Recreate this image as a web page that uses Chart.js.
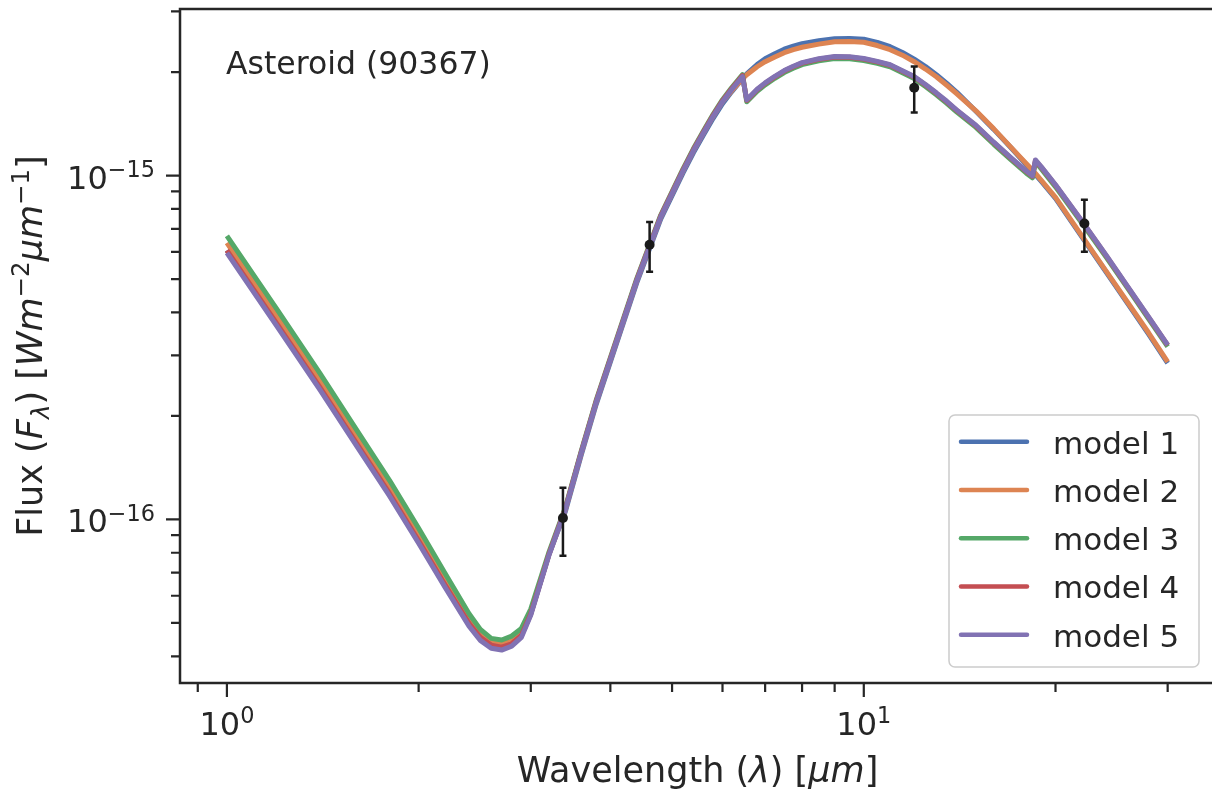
<!DOCTYPE html>
<html>
<head>
<meta charset="utf-8">
<title>Asteroid (90367) spectral energy distribution</title>
<script src="https://cdn.jsdelivr.net/npm/chart.js@4.4.1/dist/chart.umd.min.js"></script>
<style>
  html, body { margin: 0; padding: 0; background: #ffffff; overflow: hidden; }
  #wrap { width: 1220px; height: 791px; }
  canvas { display: block; }
</style>
</head>
<body>
<div id="wrap"><canvas id="sed" width="1220" height="791"></canvas></div>
<script>
// Wavelength grid of the model spectra (micron)
const wavelength = [
  1.0, 1.2, 1.4, 1.6, 1.8, 2.0, 2.2, 2.4, 2.5, 2.6, 2.7, 2.8, 2.9, 3.0, 3.2, 3.4, 3.6, 3.8, 4.0, 4.4, 4.8, 5.2,
  5.4, 5.6, 5.8, 6.0, 6.2, 6.45, 6.55, 6.8, 7.0, 7.25, 7.5, 7.75, 8.0, 8.5, 9.0, 9.5, 10, 10.5, 11, 11.5, 12, 12.5, 13, 13.5, 14,
  15, 16, 17, 18, 18.4, 18.6, 19, 20, 22, 24, 26, 28, 30];

// Model fluxes F_lambda (W m^-2 um^-1) on the wavelength grid
const model1 = [
  6.06e-16, 3.69e-16, 2.42e-16, 1.658e-16, 1.19e-16, 8.67e-17, 6.46e-17, 4.99e-17, 4.54e-17, 4.31e-17, 4.25e-17,
  4.35e-17, 4.60e-17, 5.32e-17, 7.87e-17, 1.056e-16, 1.539e-16, 2.161e-16, 2.871e-16, 4.874e-16, 7.479e-16, 1.016e-15,
  1.164e-15, 1.312e-15, 1.467e-15, 1.618e-15, 1.752e-15, 1.912e-15, 1.977e-15, 2.103e-15, 2.186e-15, 2.262e-15, 2.330e-15,
  2.377e-15, 2.417e-15, 2.466e-15, 2.500e-15, 2.505e-15, 2.491e-15, 2.440e-15, 2.369e-15, 2.279e-15, 2.179e-15, 2.075e-15,
  1.964e-15, 1.853e-15, 1.746e-15,
  1.538e-15, 1.362e-15, 1.208e-15, 1.075e-15, 1.029e-15, 1.007e-15, 9.62e-16, 8.58e-16, 6.63e-16, 5.25e-16, 4.23e-16,
  3.46e-16, 2.85e-16];
const model2 = [
  6.37e-16, 3.88e-16, 2.545e-16, 1.737e-16, 1.243e-16, 9.06e-17, 6.72e-17, 5.16e-17, 4.68e-17, 4.42e-17, 4.34e-17,
  4.43e-17, 4.65e-17, 5.34e-17, 7.87e-17, 1.07e-16, 1.56e-16, 2.19e-16, 2.91e-16, 4.94e-16, 7.58e-16, 1.03e-15,
  1.180e-15, 1.33e-15, 1.487e-15, 1.64e-15, 1.764e-15, 1.912e-15, 1.964e-15, 2.072e-15, 2.143e-15, 2.213e-15, 2.276e-15,
  2.323e-15, 2.361e-15, 2.411e-15, 2.450e-15, 2.453e-15, 2.442e-15, 2.388e-15, 2.322e-15, 2.239e-15, 2.143e-15, 2.040e-15,
  1.938e-15, 1.830e-15, 1.729e-15,
  1.543e-15, 1.367e-15, 1.212e-15, 1.082e-15, 1.036e-15, 1.014e-15, 9.68e-16, 8.64e-16, 6.68e-16, 5.28e-16, 4.26e-16,
  3.49e-16, 2.87e-16];
const model3 = [
  6.68e-16, 4.07e-16, 2.66e-16, 1.815e-16, 1.30e-16, 9.43e-17, 6.97e-17, 5.32e-17, 4.79e-17, 4.51e-17, 4.46e-17,
  4.58e-17, 4.82e-17, 5.49e-17, 7.98e-17, 1.084e-16, 1.58e-16, 2.22e-16, 2.95e-16, 5.01e-16, 7.68e-16, 1.044e-15,
  1.196e-15, 1.348e-15, 1.507e-15, 1.662e-15, 1.800e-15, 1.966e-15, 1.638e-15, 1.758e-15, 1.835e-15, 1.918e-15, 1.993e-15,
  2.051e-15, 2.102e-15, 2.157e-15, 2.190e-15, 2.187e-15, 2.161e-15, 2.119e-15, 2.072e-15, 1.991e-15, 1.914e-15, 1.815e-15,
  1.717e-15, 1.622e-15, 1.529e-15,
  1.381e-15, 1.233e-15, 1.115e-15, 1.016e-15, 9.85e-16, 1.095e-15, 1.046e-15, 9.27e-16, 7.28e-16, 5.80e-16, 4.68e-16,
  3.83e-16, 3.18e-16];
const model4 = [
  6.06e-16, 3.69e-16, 2.42e-16, 1.658e-16, 1.19e-16, 8.67e-17, 6.46e-17, 4.99e-17, 4.54e-17, 4.31e-17, 4.25e-17,
  4.35e-17, 4.60e-17, 5.32e-17, 7.87e-17, 1.077e-16, 1.57e-16, 2.205e-16, 2.93e-16, 4.97e-16, 7.63e-16, 1.037e-15,
  1.188e-15, 1.339e-15, 1.497e-15, 1.651e-15, 1.788e-15, 1.953e-15, 1.654e-15, 1.776e-15, 1.854e-15, 1.937e-15, 2.013e-15,
  2.072e-15, 2.123e-15, 2.179e-15, 2.213e-15, 2.209e-15, 2.183e-15, 2.141e-15, 2.093e-15, 2.011e-15, 1.934e-15, 1.833e-15,
  1.734e-15, 1.638e-15, 1.545e-15,
  1.395e-15, 1.246e-15, 1.126e-15, 1.027e-15, 9.95e-16, 1.106e-15, 1.056e-15, 9.37e-16, 7.36e-16, 5.86e-16, 4.72e-16,
  3.87e-16, 3.21e-16];
const model5 = [
  5.96e-16, 3.63e-16, 2.38e-16, 1.63e-16, 1.17e-16, 8.53e-17, 6.35e-17, 4.89e-17, 4.45e-17, 4.22e-17, 4.17e-17,
  4.28e-17, 4.54e-17, 5.27e-17, 7.82e-17, 1.07e-16, 1.56e-16, 2.19e-16, 2.91e-16, 4.94e-16, 7.58e-16, 1.03e-15,
  1.180e-15, 1.33e-15, 1.487e-15, 1.64e-15, 1.776e-15, 1.94e-15, 1.66e-15, 1.782e-15, 1.86e-15, 1.944e-15, 2.02e-15,
  2.079e-15, 2.13e-15, 2.186e-15, 2.22e-15, 2.216e-15, 2.19e-15, 2.148e-15, 2.10e-15, 2.018e-15, 1.94e-15, 1.839e-15,
  1.74e-15, 1.644e-15, 1.55e-15,
  1.40e-15, 1.25e-15, 1.13e-15, 1.03e-15, 9.98e-16, 1.11e-15, 1.06e-15, 9.40e-16, 7.38e-16, 5.88e-16, 4.74e-16,
  3.88e-16, 3.22e-16];

const modelNames = ['model 1', 'model 2', 'model 3', 'model 4', 'model 5'];
const modelColors = ['#4C72B0', '#DD8452', '#55A868', '#C44E52', '#8172B3'];

// Photometric measurements with 1-sigma uncertainties
const obsWave = [3.37, 4.61, 12.0, 22.2];
const obsFlux = [1.01e-16, 6.29e-16, 1.80e-15, 7.25e-16];
const obsErr  = [2.26e-17, 1.04e-16, 2.75e-16, 1.25e-16];

// Axis limits and tick positions
const xLimits = [0.844, 35.6];
const yLimits = [3.345e-17, 3.05e-15];
const xMajorTicks = [1, 10];
const xMinorTicks = [0.9, 2, 3, 4, 5, 6, 7, 8, 9, 20, 30];
const yMajorTicks = [1e-16, 1e-15];
const yMinorTicks = [4e-17, 5e-17, 6e-17, 7e-17, 8e-17, 9e-17, 2e-16, 3e-16, 4e-16, 5e-16, 6e-16, 7e-16, 8e-16,
  9e-16, 2e-15, 3e-15];

const targetName = 'Asteroid (90367)';

const INK = '#262626';
const FONT = '"DejaVu Sans", "Liberation Sans", sans-serif';

function setFont(ctx, size, italic) {
  ctx.font = (italic ? 'italic ' : '') + size + 'px ' + FONT;
}

// Draws a sequence of text pieces (normal, italic, raised or lowered) on one baseline
function drawRuns(ctx, runs, x, y, align) {
  ctx.textAlign = 'left';
  ctx.textBaseline = 'alphabetic';
  const widths = runs.map(r => { setFont(ctx, r.size, r.italic); return ctx.measureText(r.text).width; });
  const total = widths.reduce((a, b) => a + b, 0);
  let cx = align === 'center' ? x - total / 2 : (align === 'right' ? x - total : x);
  runs.forEach((r, i) => {
    setFont(ctx, r.size, r.italic);
    ctx.fillText(r.text, cx, y + (r.dy || 0));
    cx += widths[i];
  });
}

function powerLabel(value) {
  const e = Math.round(Math.log10(value));
  const expText = e < 0 ? '\u2212' + (-e) : String(e);
  return [{ text: '10', size: 32 }, { text: expText, size: 22.4, dy: -11.6 }];
}

const sedDecor = {
  id: 'sedDecor',
  beforeDatasetDraw(chart, args) {
    const ds = chart.data.datasets[args.index];
    if (ds.id !== 'obs') return;
    const ctx = chart.ctx, xs = chart.scales.x, ys = chart.scales.y;
    ctx.save();
    ctx.strokeStyle = '#1a1a1a';
    ctx.lineWidth = 2.5;
    ctx.lineCap = 'butt';
    obsWave.forEach((w, i) => {
      const px = xs.getPixelForValue(w);
      const pTop = ys.getPixelForValue(obsFlux[i] + obsErr[i]);
      const pBot = ys.getPixelForValue(obsFlux[i] - obsErr[i]);
      ctx.beginPath();
      ctx.moveTo(px, pTop); ctx.lineTo(px, pBot);
      ctx.moveTo(px - 3.5, pTop); ctx.lineTo(px + 3.5, pTop);
      ctx.moveTo(px - 3.5, pBot); ctx.lineTo(px + 3.5, pBot);
      ctx.stroke();
    });
    ctx.restore();
  },
  afterDraw(chart) {
    const ctx = chart.ctx, xs = chart.scales.x, ys = chart.scales.y;
    const a = chart.chartArea;
    ctx.save();

    // frame
    ctx.strokeStyle = INK;
    ctx.lineWidth = 2.5;
    ctx.strokeRect(a.left, a.top, a.right - a.left, a.bottom - a.top);

    // tick marks
    ctx.lineWidth = 2.2;
    ctx.beginPath();
    xMajorTicks.forEach(v => { const p = xs.getPixelForValue(v); ctx.moveTo(p, a.bottom); ctx.lineTo(p, a.bottom + 14); });
    xMinorTicks.forEach(v => { const p = xs.getPixelForValue(v); ctx.moveTo(p, a.bottom); ctx.lineTo(p, a.bottom + 9); });
    yMajorTicks.forEach(v => { const p = ys.getPixelForValue(v); ctx.moveTo(a.left - 14, p); ctx.lineTo(a.left, p); });
    yMinorTicks.forEach(v => { const p = ys.getPixelForValue(v); ctx.moveTo(a.left - 9, p); ctx.lineTo(a.left, p); });
    ctx.stroke();

    // tick labels
    ctx.fillStyle = INK;
    xMajorTicks.forEach(v => drawRuns(ctx, powerLabel(v), xs.getPixelForValue(v), a.bottom + 52, 'center'));
    yMajorTicks.forEach(v => drawRuns(ctx, powerLabel(v), a.left - 25, ys.getPixelForValue(v) + 13, 'right'));

    // axis titles
    drawRuns(ctx, [
      { text: 'Wavelength (', size: 35 },
      { text: '\u03bb', size: 35, italic: true },
      { text: ') [', size: 35 },
      { text: '\u03bcm', size: 35, italic: true },
      { text: ']', size: 35 }
    ], (a.left + a.right) / 2, a.bottom + 99, 'center');

    ctx.save();
    ctx.translate(42, (a.top + a.bottom) / 2);
    ctx.rotate(-Math.PI / 2);
    drawRuns(ctx, [
      { text: 'Flux (', size: 35 },
      { text: 'F', size: 35, italic: true },
      { text: '\u03bb', size: 24.5, italic: true, dy: 7 },
      { text: ') [', size: 35 },
      { text: 'Wm', size: 35, italic: true },
      { text: '\u22122', size: 24.5, dy: -13 },
      { text: '\u03bcm', size: 35, italic: true },
      { text: '\u22121', size: 24.5, dy: -13 },
      { text: ']', size: 35 }
    ], 0, 0, 'center');
    ctx.restore();

    // target name
    setFont(ctx, 31.5, false);
    ctx.textAlign = 'left';
    ctx.fillText(targetName, 226, 74);

    // legend
    const lx = 949, ly = 415, lw = 250, lh = 252;
    ctx.beginPath();
    ctx.roundRect(lx, ly, lw, lh, 6);
    ctx.fillStyle = 'rgba(255,255,255,0.85)';
    ctx.fill();
    ctx.strokeStyle = '#cccccc';
    ctx.lineWidth = 1.5;
    ctx.stroke();
    const models = chart.data.datasets.filter(d => d.id !== 'obs')
      .sort((p, q) => modelNames.indexOf(p.label) - modelNames.indexOf(q.label));
    models.forEach((d, i) => {
      const yy = ly + 26.7 + i * 48.25;
      ctx.strokeStyle = d.borderColor;
      ctx.lineWidth = 4.5;
      ctx.lineCap = 'round';
      ctx.beginPath();
      ctx.moveTo(lx + 12, yy); ctx.lineTo(lx + 78, yy);
      ctx.stroke();
      ctx.fillStyle = INK;
      setFont(ctx, 31, false);
      ctx.fillText(d.label, lx + 104, yy + 12);
    });
    ctx.restore();
  }
};

const modelSeries = [model1, model2, model3, model4, model5];
const datasets = modelSeries.map((series, k) => ({
  id: 'model' + (k + 1),
  label: modelNames[k],
  data: wavelength.map((w, i) => ({ x: w, y: series[i] })),
  borderColor: modelColors[k],
  backgroundColor: modelColors[k],
  borderWidth: 5,
  borderJoinStyle: 'round',
  pointRadius: 0,
  fill: false,
  tension: 0,
  order: 5 - k
}));
datasets.push({
  id: 'obs',
  label: 'observed',
  data: obsWave.map((w, i) => ({ x: w, y: obsFlux[i] })),
  showLine: false,
  pointRadius: 5,
  pointBorderWidth: 0,
  pointBackgroundColor: '#1a1a1a',
  borderColor: '#1a1a1a',
  order: 0
});

new Chart(document.getElementById('sed'), {
  type: 'line',
  data: { datasets },
  options: {
    responsive: false,
    animation: false,
    devicePixelRatio: 1,
    layout: { padding: { left: 180, right: 4, top: 9, bottom: 108 } },
    plugins: { legend: { display: false }, tooltip: { enabled: false }, title: { display: false } },
    scales: {
      x: { type: 'logarithmic', min: xLimits[0], max: xLimits[1], display: false },
      y: { type: 'logarithmic', min: yLimits[0], max: yLimits[1], display: false }
    }
  },
  plugins: [sedDecor]
});
</script>
</body>
</html>
